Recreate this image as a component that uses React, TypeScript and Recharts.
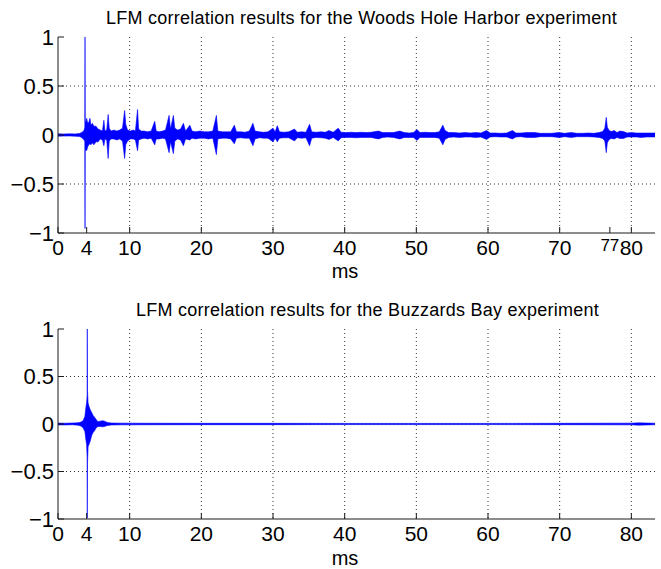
import React from 'react';
import { ComposedChart, Area, XAxis, YAxis, CartesianGrid } from 'recharts';

// Woods Hole Harbor: envelope of the correlation output (ms, upper, lower)
const woodsTime = [
  0, 0.8, 1.6, 2.4, 3.0, 3.3, 3.5, 3.65, 3.74, 3.77,
  3.8, 3.9, 4.0, 4.15, 4.3, 4.46, 4.6, 4.8, 5.0, 5.3,
  5.6, 5.9, 6.2, 6.4, 6.55, 6.8, 7.0, 7.15, 7.4, 7.8,
  8.2, 8.6, 9.0, 9.3, 9.45, 9.7, 10.1, 10.5, 10.8, 11.1,
  11.25, 11.6, 12.0, 12.5, 13.0, 13.5, 13.7, 14.1, 14.6, 15.0,
  15.5, 15.7, 16.1, 16.3, 16.7, 17.1, 17.5, 17.8, 18.4, 18.7,
  19.2, 19.8, 20.4, 21.0, 21.6, 22.1, 22.3, 22.9, 23.5, 24.1,
  24.6, 24.9, 25.5, 26.1, 26.7, 27.2, 27.5, 28.1, 28.7, 29.3,
  30.0, 30.3, 30.6, 30.9, 31.5, 32.2, 33.0, 33.4, 34.0, 34.6,
  35.1, 35.4, 36.0, 36.7, 37.3, 37.8, 38.4, 39.1, 39.5, 40.2,
  40.9, 41.6, 42.3, 43.0, 43.7, 44.7, 45.3, 46.0, 46.8, 47.7,
  48.3, 49.0, 49.6, 50.1, 50.5, 51.2, 51.9, 52.6, 53.2, 53.7,
  54.0, 54.5, 55.2, 56.0, 56.8, 57.5, 58.3, 59.0, 59.8, 60.3,
  61.0, 61.8, 62.6, 63.4, 63.9, 64.6, 65.4, 66.5, 67.3, 68.1,
  68.9, 69.9, 70.7, 71.6, 72.4, 73.2, 74.0, 74.8, 75.5, 76.0,
  76.3, 76.5, 76.65, 76.9, 77.2, 77.6, 78.0, 78.4, 78.9, 79.4,
  80.0, 80.7, 81.4, 82.1, 82.8, 83.3,
];
const woodsHigh = [
  0.012, 0.01, 0.012, 0.011, 0.016, 0.025, 0.035, 0.05, 0.08, 1.0,
  0.15, 0.13, 0.17, 0.12, 0.13, 0.17, 0.1, 0.12, 0.09, 0.09,
  0.06, 0.05, 0.04, 0.15, 0.04, 0.05, 0.21, 0.07, 0.04, 0.05,
  0.04, 0.05, 0.07, 0.25, 0.11, 0.05, 0.04, 0.05, 0.04, 0.26,
  0.06, 0.04, 0.04, 0.032, 0.04, 0.14, 0.04, 0.032, 0.04, 0.05,
  0.2, 0.06, 0.2, 0.07, 0.05, 0.06, 0.12, 0.04, 0.1, 0.04,
  0.032, 0.04, 0.032, 0.032, 0.04, 0.2, 0.04, 0.032, 0.032, 0.032,
  0.1, 0.032, 0.032, 0.028, 0.04, 0.12, 0.04, 0.032, 0.028, 0.032,
  0.07, 0.032, 0.095, 0.032, 0.028, 0.032, 0.06, 0.028, 0.032, 0.028,
  0.11, 0.032, 0.028, 0.032, 0.028, 0.045, 0.028, 0.07, 0.028, 0.025,
  0.028, 0.025, 0.028, 0.025, 0.028, 0.04, 0.025, 0.025, 0.025, 0.04,
  0.025, 0.02, 0.025, 0.055, 0.025, 0.028, 0.025, 0.025, 0.032, 0.1,
  0.045, 0.025, 0.025, 0.02, 0.025, 0.02, 0.025, 0.02, 0.045, 0.02,
  0.02, 0.017, 0.02, 0.045, 0.02, 0.02, 0.025, 0.025, 0.017, 0.017,
  0.017, 0.025, 0.017, 0.025, 0.017, 0.017, 0.02, 0.017, 0.025, 0.035,
  0.07, 0.18, 0.08, 0.045, 0.035, 0.045, 0.025, 0.04, 0.035, 0.02,
  0.025, 0.02, 0.02, 0.02, 0.02, 0.02,
];
const woodsLow = [
  -0.012, -0.011, -0.01, -0.012, -0.016, -0.025, -0.04, -0.05, -0.07, -0.955,
  -0.16, -0.15, -0.16, -0.12, -0.1, -0.09, -0.1, -0.08, -0.1, -0.07,
  -0.07, -0.04, -0.05, -0.11, -0.04, -0.05, -0.24, -0.06, -0.04, -0.04,
  -0.05, -0.04, -0.06, -0.24, -0.1, -0.06, -0.04, -0.04, -0.05, -0.16,
  -0.05, -0.04, -0.032, -0.04, -0.032, -0.1, -0.04, -0.04, -0.032, -0.04,
  -0.18, -0.07, -0.19, -0.06, -0.04, -0.05, -0.11, -0.04, -0.05, -0.032,
  -0.04, -0.032, -0.032, -0.04, -0.032, -0.2, -0.04, -0.032, -0.032, -0.04,
  -0.09, -0.032, -0.028, -0.032, -0.032, -0.11, -0.04, -0.028, -0.032, -0.032,
  -0.07, -0.032, -0.07, -0.032, -0.028, -0.028, -0.06, -0.028, -0.032, -0.028,
  -0.11, -0.032, -0.025, -0.028, -0.032, -0.045, -0.025, -0.06, -0.028, -0.025,
  -0.025, -0.028, -0.025, -0.025, -0.025, -0.04, -0.025, -0.02, -0.025, -0.04,
  -0.025, -0.025, -0.025, -0.055, -0.025, -0.025, -0.025, -0.025, -0.032, -0.1,
  -0.045, -0.025, -0.02, -0.025, -0.02, -0.02, -0.025, -0.02, -0.045, -0.02,
  -0.017, -0.02, -0.02, -0.04, -0.02, -0.017, -0.025, -0.025, -0.017, -0.017,
  -0.017, -0.025, -0.017, -0.025, -0.017, -0.017, -0.017, -0.02, -0.025, -0.035,
  -0.06, -0.18, -0.08, -0.045, -0.035, -0.04, -0.025, -0.035, -0.035, -0.02,
  -0.02, -0.02, -0.025, -0.02, -0.02, -0.02,
];

// Buzzards Bay
const bayTime = [
  0, 1.0, 2.0, 2.8, 3.2, 3.5, 3.75, 3.9, 4.0, 4.06,
  4.09, 4.12, 4.2, 4.35, 4.5, 4.7, 4.9, 5.1, 5.3, 5.55,
  5.9, 6.2, 6.5, 6.9, 7.5, 9.0, 12.0, 20.0, 30.0, 40.0,
  50.0, 60.0, 70.0, 75.0, 80.0, 81.0, 83.3,
];
const bayHigh = [
  0.01, 0.008, 0.01, 0.012, 0.02, 0.035, 0.08, 0.18, 0.23, 0.3,
  1.0, 0.35, 0.22, 0.18, 0.15, 0.12, 0.09, 0.07, 0.05, 0.025,
  0.03, 0.035, 0.03, 0.015, 0.01, 0.009, 0.008, 0.007, 0.007, 0.006,
  0.006, 0.006, 0.007, 0.008, 0.009, 0.012, 0.008,
];
const bayLow = [
  -0.01, -0.01, -0.008, -0.012, -0.022, -0.04, -0.08, -0.17, -0.22, -0.35,
  -0.99, -0.4, -0.24, -0.21, -0.18, -0.12, -0.09, -0.07, -0.045, -0.025,
  -0.025, -0.03, -0.025, -0.015, -0.01, -0.009, -0.008, -0.007, -0.007, -0.006,
  -0.006, -0.006, -0.007, -0.008, -0.009, -0.012, -0.008,
];

const xLimit = 83.3;
const woodsTicks = [0, 4, 10, 20, 30, 40, 50, 60, 70, 77, 80];
const bayTicks = [0, 4, 10, 20, 30, 40, 50, 60, 70, 80];
const gridTicks = [10, 20, 30, 40, 50, 60, 70, 80];
const yTicks = [-1, -0.5, 0, 0.5, 1];
const yGrid = [-0.5, 0, 0.5];
const woodsTitle = 'LFM correlation results for the Woods Hole Harbor experiment';
const bayTitle = 'LFM correlation results for the Buzzards Bay experiment';

const W = 661;
const H = 569;
const FONT = '"Liberation Sans", Arial, Helvetica, sans-serif';
const INK = '#1a1a1a';
const BLUE = '#0000ff';

const formatY = (v: number) => (v < 0 ? `\u2212${Math.abs(v)}` : String(v));

// 77 was annotated smaller and raised in the original
const TimeTick = (props: any) => {
  const { x, y, payload } = props;
  const raised = payload.value === 77;
  return (
    <text
      x={x}
      y={y + (raised ? 18 : 22)}
      textAnchor="middle"
      fontSize={raised ? 17 : 21}
      fill="#000"
      fontFamily={FONT}
    >
      {payload.value}
    </text>
  );
};

interface PanelProps {
  time: number[];
  high: number[];
  low: number[];
  ticks: number[];
  top: number;
  plotHeight: number;
}

const Panel = ({ time, high, low, ticks, top, plotHeight }: PanelProps) => {
  const data = time.map((t, i) => ({ t, range: [low[i], high[i]] }));
  return (
    <div style={{ position: 'absolute', left: 0, top, width: W }}>
      <ComposedChart
        width={W}
        height={37 + plotHeight + 50}
        data={data}
        margin={{ top: 37, right: 6, bottom: 0, left: 0 }}
      >
        <CartesianGrid
          horizontalValues={yGrid}
          verticalValues={gridTicks}
          stroke="#333"
          strokeDasharray="1 3"
        />
        <XAxis
          dataKey="t"
          type="number"
          domain={[0, xLimit]}
          allowDataOverflow
          ticks={ticks}
          interval={0}
          tick={<TimeTick />}
          tickSize={-6}
          tickMargin={6}
          height={50}
          stroke={INK}
        />
        <XAxis
          xAxisId="top"
          orientation="top"
          type="number"
          domain={[0, xLimit]}
          allowDataOverflow
          ticks={gridTicks}
          interval={0}
          tick={false}
          tickSize={-6}
          height={0}
          stroke={INK}
        />
        <YAxis
          type="number"
          domain={[-1, 1]}
          allowDataOverflow
          ticks={yTicks}
          interval={0}
          tickFormatter={formatY}
          tick={{ fontSize: 22, fill: '#000', fontFamily: FONT }}
          tickSize={-6}
          tickMargin={10}
          width={58}
          stroke={INK}
        />
        <YAxis
          yAxisId="right"
          orientation="right"
          type="number"
          domain={[-1, 1]}
          allowDataOverflow
          ticks={yTicks}
          interval={0}
          tick={false}
          tickSize={-6}
          width={0}
          stroke={INK}
        />
        <Area
          dataKey="range"
          type="linear"
          stroke={BLUE}
          strokeWidth={0.6}
          fill={BLUE}
          fillOpacity={1}
          dot={false}
          activeDot={false}
          isAnimationActive={false}
        />
      </ComposedChart>
    </div>
  );
};

export default function App() {
  return (
    <div
      style={{
        position: 'absolute',
        left: 0,
        top: 0,
        width: W,
        height: H,
        background: '#fff',
        fontFamily: FONT,
        overflow: 'hidden',
      }}
    >
      <Panel time={woodsTime} high={woodsHigh} low={woodsLow} ticks={woodsTicks} top={0} plotHeight={196} />
      <Panel time={bayTime} high={bayHigh} low={bayLow} ticks={bayTicks} top={292} plotHeight={190} />
      <svg width={W} height={H} style={{ position: 'absolute', left: 0, top: 0, pointerEvents: 'none' }}>
        <g fontFamily={FONT} fill="#000">
          <text x={361.5} y={24} textAnchor="middle" fontSize={18} letterSpacing={0.25}>
            {woodsTitle}
          </text>
          <text x={345} y={278} textAnchor="middle" fontSize={20}>
            ms
          </text>
          <text x={367.5} y={315.5} textAnchor="middle" fontSize={18} letterSpacing={0.25}>
            {bayTitle}
          </text>
          <text x={345} y={564.5} textAnchor="middle" fontSize={20}>
            ms
          </text>
        </g>
      </svg>
    </div>
  );
}
